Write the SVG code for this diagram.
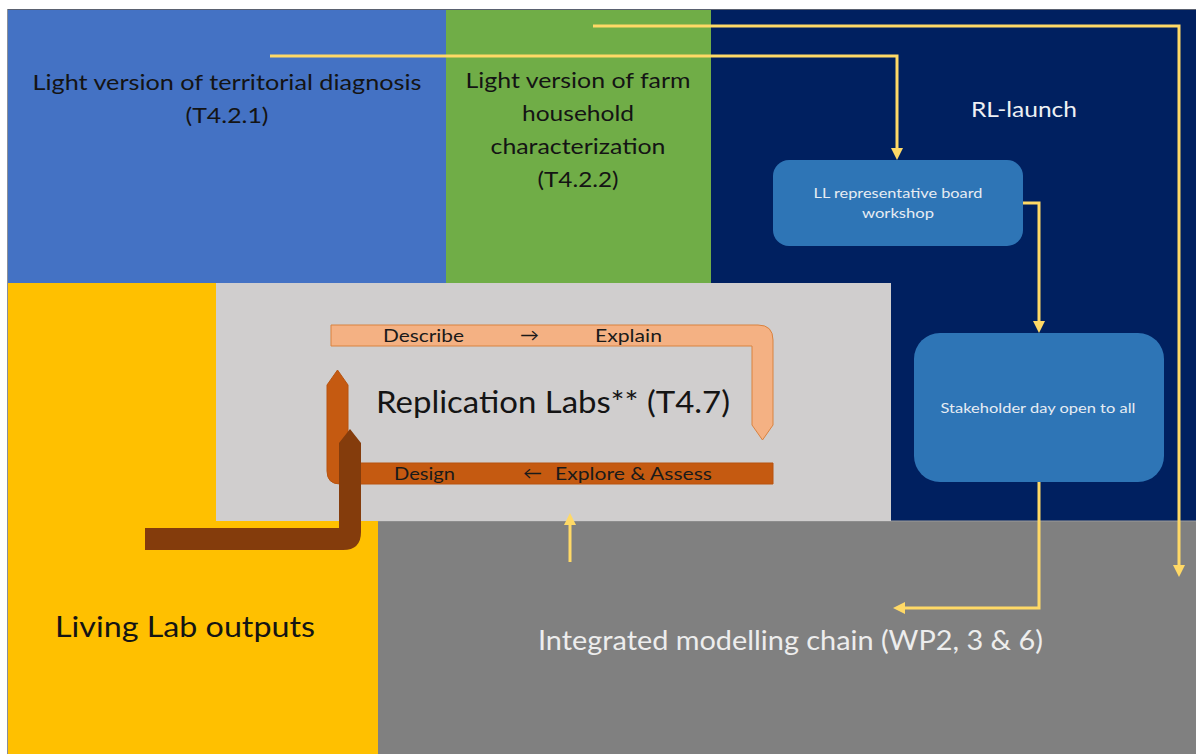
<svg xmlns="http://www.w3.org/2000/svg" width="1196" height="754" viewBox="0 0 1196 754">
  <style>
    text { font-family: Lato, "Open Sans", "Liberation Sans", sans-serif; }
    .dark { fill: #141414; }
    .light { fill: #eef0f4; }
    .flow { fill: none; stroke: #ffd966; stroke-width: 3; marker-end: url(#tip); }
    .step { fill: #2e75b6; }
    .small { font-size: 13px; fill: #e6ecf3; }
    .band { font-size: 17px; fill: #1a1a1a; }
  </style>
  <defs>
    <marker id="tip" markerUnits="userSpaceOnUse" viewBox="0 0 12 12" markerWidth="12" markerHeight="12" refX="2" refY="6" orient="auto">
      <path d="M0,0 L12,6 L0,12 Z" fill="#ffd966"/>
    </marker>
  </defs>

  <rect x="0" y="0" width="1196" height="754" fill="#ffffff"/>

  <!-- background panels -->
  <g id="territorial">
    <rect x="7" y="9" width="440" height="275" fill="#4472c4"/>
    <text class="dark" x="227" y="90" font-size="22" text-anchor="middle" textLength="389" lengthAdjust="spacingAndGlyphs">Light version of territorial diagnosis</text>
    <text class="dark" x="227" y="123" font-size="22" text-anchor="middle" textLength="83" lengthAdjust="spacingAndGlyphs">(T4.2.1)</text>
  </g>
  <g id="farm">
    <rect x="446" y="9" width="266" height="275" fill="#70ad47"/>
    <text class="dark" x="578" y="88" font-size="22" text-anchor="middle" textLength="225" lengthAdjust="spacingAndGlyphs">Light version of farm</text>
    <text class="dark" x="578" y="121" font-size="22" text-anchor="middle" textLength="112" lengthAdjust="spacingAndGlyphs">household</text>
    <text class="dark" x="578" y="154" font-size="22" text-anchor="middle" textLength="175" lengthAdjust="spacingAndGlyphs">characterization</text>
    <text class="dark" x="578" y="187" font-size="22" text-anchor="middle" textLength="81" lengthAdjust="spacingAndGlyphs">(T4.2.2)</text>
  </g>
  <g id="rl-launch">
    <rect x="711" y="9" width="485" height="512" fill="#002060"/>
    <text class="light" x="1024" y="117" font-size="22" text-anchor="middle" textLength="106" lengthAdjust="spacingAndGlyphs">RL-launch</text>
  </g>
  <g id="living-lab">
    <rect x="7" y="283" width="371" height="471" fill="#ffc000"/>
    <text class="dark" x="55" y="637" font-size="28" textLength="260" lengthAdjust="spacingAndGlyphs">Living Lab outputs</text>
  </g>
  <g id="modelling-chain">
    <rect x="378" y="521" width="818" height="233" fill="#808080"/>
    <line x1="378" y1="521" x2="1196" y2="521" stroke="#9a9a9a" stroke-width="1"/>
    <text x="538" y="650" font-size="26" fill="#ededed" textLength="505" lengthAdjust="spacingAndGlyphs">Integrated modelling chain (WP2, 3 &amp; 6)</text>
  </g>
  <line x1="7" y1="9.5" x2="1196" y2="9.5" stroke="#5a6170" stroke-width="1"/>
  <line x1="7.5" y1="9" x2="7.5" y2="754" stroke="#8a8f99" stroke-width="1"/>

  <!-- replication labs cycle -->
  <g id="replication-labs">
    <rect x="216" y="283" width="675" height="238" fill="#d0cece"/>
    <path d="M331 325 H758 Q773 325 773 340 V425 L762.5 440 L752 425 V346 H331 Z" fill="#f4b183" stroke="#d9823f" stroke-width="1"/>
    <text class="band" x="383" y="342" textLength="81" lengthAdjust="spacingAndGlyphs">Describe</text>
    <text class="band" x="520" y="341" textLength="19" lengthAdjust="spacingAndGlyphs">→</text>
    <text class="band" x="595" y="342" textLength="67" lengthAdjust="spacingAndGlyphs">Explain</text>
    <path d="M773 463 V484 H340 Q327 484 327 471 V385 L337.5 370 L348 385 V463 Z" fill="#c55a11" stroke="#b8530f" stroke-width="1"/>
    <text class="band" x="394" y="480" textLength="61" lengthAdjust="spacingAndGlyphs">Design</text>
    <text class="band" x="523" y="479" textLength="19" lengthAdjust="spacingAndGlyphs">←</text>
    <text class="band" x="555" y="480" textLength="157" lengthAdjust="spacingAndGlyphs">Explore &amp; Assess</text>
    <text x="376" y="413" font-size="30" fill="#141414" textLength="354" lengthAdjust="spacingAndGlyphs">Replication Labs** (T4.7)</text>
  </g>

  <!-- living lab feed into the cycle -->
  <g id="ll-input">
    <path d="M145 528 H339 V443 L350 429 L361 443 V532 Q361 550 343 550 H145 Z" fill="#843c0c"/>
  </g>

  <!-- launch steps -->
  <g id="board-workshop">
    <rect class="step" x="773" y="160" width="250" height="86" rx="16"/>
    <text class="small" x="898" y="198" text-anchor="middle" textLength="169" lengthAdjust="spacingAndGlyphs">LL representative board</text>
    <text class="small" x="898" y="218" text-anchor="middle" textLength="72" lengthAdjust="spacingAndGlyphs">workshop</text>
  </g>
  <g id="stakeholder-day">
    <rect class="step" x="914" y="333" width="250" height="149" rx="26"/>
    <text class="small" x="1038" y="413" text-anchor="middle" textLength="195" lengthAdjust="spacingAndGlyphs">Stakeholder day open to all</text>
  </g>

  <!-- connectors -->
  <g id="connectors">
    <path class="flow" d="M270 56 H897 V150"/>
    <path class="flow" d="M593 26 H1179 V567"/>
    <path class="flow" d="M1023 203 H1039 V323"/>
    <path class="flow" d="M1039 482 V608 H903"/>
    <path class="flow" d="M570 562 V523"/>
  </g>
</svg>
